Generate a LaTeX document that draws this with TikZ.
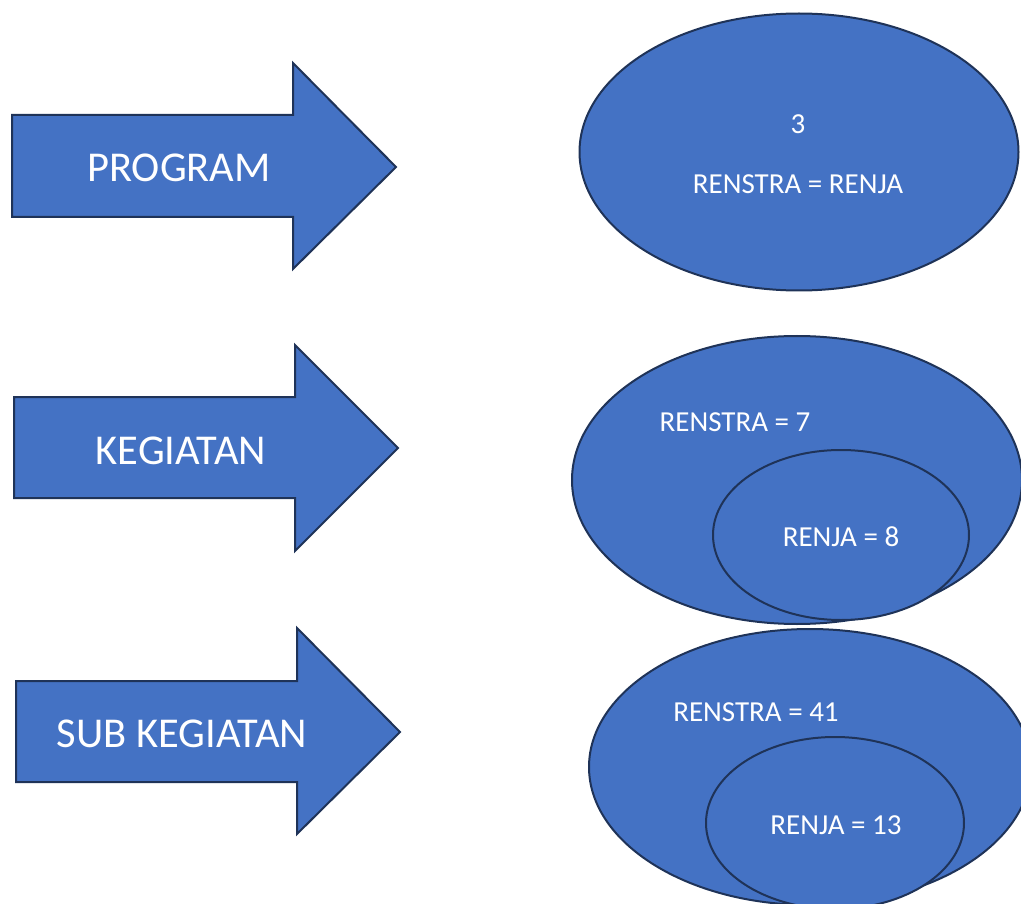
\documentclass[tikz,border=0pt]{standalone}
\usepackage{fontspec}
\setmainfont{Carlito}
\usetikzlibrary{shapes.geometric}
\definecolor{shapefill}{HTML}{4472C4}
\definecolor{shapeline}{HTML}{1F3358}
\tikzset{
  bigarrow/.style={fill=shapefill, draw=shapeline, line width=2pt, line join=miter},
  blob/.style={ellipse, fill=shapefill, draw=shapeline, line width=2pt, inner sep=0pt},
  arrowlabel/.style={text=white, font=\fontsize{42.5}{46}\selectfont, inner sep=0pt},
  blobtext/.style={text=white, font=\fontsize{29}{32}\selectfont, inner sep=0pt},
}
\begin{document}
\begin{tikzpicture}[x=1pt,y=-1pt]
\useasboundingbox (0,0) rectangle (1021,904);
\clip (0,0) rectangle (1021,904);
\fill[white] (0,0) rectangle (1021,904);

% block arrows
\draw[bigarrow] (12,115) -- (293,115) -- (293,63) -- (396,167) -- (293,269) -- (293,217) -- (12,217) -- cycle;
\draw[bigarrow] (14,397) -- (295,397) -- (295,345) -- (398,448) -- (295,551) -- (295,498) -- (14,498) -- cycle;
\draw[bigarrow] (16,681) -- (297,681) -- (297,628) -- (400,732) -- (297,834) -- (297,782) -- (16,782) -- cycle;

\node[arrowlabel] (program) at (179,168) {PROGRAM};
\node[arrowlabel] (kegiatan) at (181,451) {KEGIATAN};
\node[arrowlabel] (subkeg) at (182,734) {SUB KEGIATAN};

% ellipses
\node[blob, minimum width=439pt, minimum height=277pt] (e1) at (799,152) {};
\node[blob, minimum width=450pt, minimum height=288pt] (e2) at (797,480) {};
\node[blob, minimum width=256pt, minimum height=170pt] (e2in) at (841,535) {};
\node[blob, minimum width=442pt, minimum height=276pt] (e3) at (810,767) {};
\node[blob, minimum width=258pt, minimum height=172pt] (e3in) at (835,823) {};

\node[blobtext] (t1a) at (798,124) {3};
\node[blobtext] (t1b) at (798,184) {RENSTRA = RENJA};
\node[blobtext] (t2a) at (735,422) {RENSTRA = 7};
\node[blobtext] (t2b) at (841,537) {RENJA = 8};
\node[blobtext] (t3a) at (756,712) {RENSTRA = 41};
\node[blobtext] (t3b) at (836,825) {RENJA = 13};
\end{tikzpicture}
\end{document}
